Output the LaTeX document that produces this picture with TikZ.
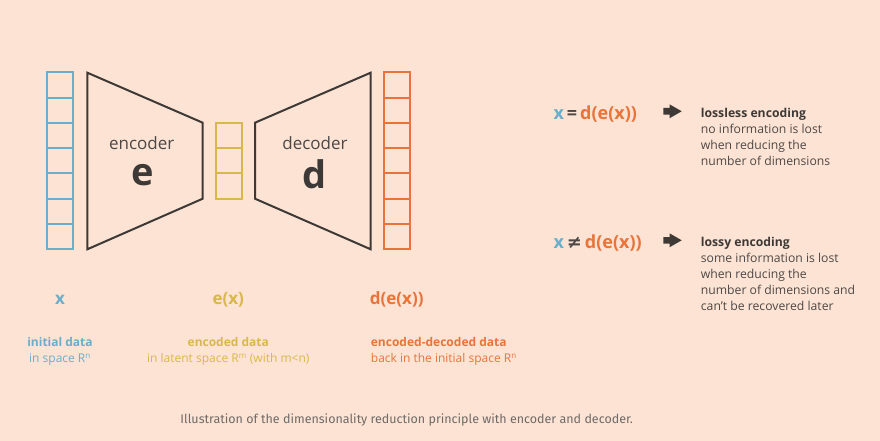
\documentclass[tikz,border=0pt]{standalone}
\usepackage{fontspec}
\setmainfont{Open Sans}
\newfontfamily\capfont{Fira Sans}
\newfontfamily\symfont{DejaVu Sans}
\definecolor{bg}{HTML}{FDE3D3}
\definecolor{cblue}{HTML}{6AAECB}
\definecolor{cyellow}{HTML}{D8B84A}
\definecolor{corange}{HTML}{E8743A}
\definecolor{cdark}{HTML}{3D3937}
\definecolor{ctext}{HTML}{4D4847}
\definecolor{ccap}{HTML}{6E6A68}
\tikzset{
  cell/.style={draw=#1, line width=2pt, minimum width=26pt, minimum height=25.3pt, inner sep=0pt},
  trap/.style={draw=cdark, line width=2pt, line join=miter},
  big/.style={font=\fontsize{17}{20}\selectfont, text=ctext, inner sep=0pt},
  letter/.style={font=\fontsize{38}{40}\selectfont\bfseries, text=cdark, inner sep=0pt},
  formula/.style={font=\fontsize{18}{20}\selectfont\bfseries, inner sep=0pt, anchor=base west},
  head/.style={font=\fontsize{12.2}{16}\selectfont\bfseries, text=cdark, inner sep=0pt, anchor=base west},
  body/.style={font=\fontsize{12.2}{16}\selectfont, text=ctext, inner sep=0pt, anchor=base west},
  lbl/.style={font=\fontsize{17}{20}\selectfont\bfseries, inner sep=0pt, anchor=base},
  sub/.style={font=\fontsize{12}{16}\selectfont\bfseries, inner sep=0pt},
  subl/.style={font=\fontsize{12}{16}\selectfont, inner sep=0pt},
  blockarrow/.style={fill=cdark},
}
\newcommand{\blockarr}[2]{%
  \coordinate (#1) at #2;
  \fill[blockarrow] ([shift={(-9.2,-3.3)}]#1) -- ([shift={(-3,-3.3)}]#1) -- ([shift={(-3,-7)}]#1)
    -- ([shift={(9.2,0)}]#1) -- ([shift={(-3,7)}]#1) -- ([shift={(-3,3.3)}]#1) -- ([shift={(-9.2,3.3)}]#1) -- cycle;
}
\begin{document}
\begin{tikzpicture}[x=1pt,y=-1pt]
\fill[bg] (0,0) rectangle (880,441);
\useasboundingbox (0,0) rectangle (880,441);
% columns
\foreach \i in {1,...,7} {
  \node[cell=cblue] (b\i) at (59.7,{72.3+25.29*(\i-0.5)}) {};
  \node[cell=corange] (o\i) at (397.2,{72.3+25.29*(\i-0.5)}) {};
}
\foreach \i in {1,2,3} {
  \node[cell=cyellow] (y\i) at (228.7,{122.7+25.33*(\i-0.5)}) {};
}
% trapezoids
\draw[trap] (87.3,72.7) -- (202.7,122.7) -- (202.7,198.7) -- (87.3,249.3) -- cycle;
\draw[trap] (255,122.7) -- (370.7,72.7) -- (370.7,249.3) -- (255,198.7) -- cycle;
\node[big] (enc) at (141.7,143.3) {encoder};
\node[letter] (e) at (142.3,175) {e};
\node[big] (dec) at (315,143.3) {decoder};
\node[letter] (d) at (315,174) {d};
% bottom labels
\node[lbl, text=cblue] (lx) at (60,304.5) {x};
\node[lbl, text=cyellow] (lex) at (228.3,304.5) {e(x)};
\node[lbl, text=corange] (ldex) at (396.7,304.5) {d(e(x))};
\node[sub, text=cblue, anchor=base] (s1) at (60,346) {initial data};
\node[subl, text=cblue, anchor=base] (s1b) at (60,362.7) {in space R\textsuperscript{n}};
\node[sub, text=cyellow, anchor=base] (s2) at (228.3,346) {encoded data};
\node[subl, text=cyellow, anchor=base] (s2b) at (228.3,362.7) {in latent space R\textsuperscript{m} (with m<n)};
\node[sub, text=corange, anchor=base west] (s3) at (370.7,346) {encoded-decoded data};
\node[subl, text=corange, anchor=base west] (s3b) at (370.7,362.7) {back in the initial space R\textsuperscript{n}};
% right side
\node[formula] (f1) at (553.3,120) {\textcolor{cblue}{x}\,\textcolor{ctext}{=}\,\textcolor{corange}{d(e(x))}};
\node[formula] (f2) at (553.3,248.5) {\textcolor{cblue}{x}\,\textcolor{ctext}{\symfont ≠}\,\textcolor{corange}{d(e(x))}};
\blockarr{a1}{(672.5,111.3)}
\blockarr{a2}{(672.5,240.3)}
\node[head] (h1) at (700.7,117.3) {lossless encoding};
\node[body] (h1a) at (700.7,133.3) {no information is lost};
\node[body] (h1b) at (700.7,149.3) {when reducing the};
\node[body] (h1c) at (700.7,165.3) {number of dimensions};
\node[head] (h2) at (700.7,246.7) {lossy encoding};
\node[body] (h2a) at (700.7,262.7) {some information is lost};
\node[body] (h2b) at (700.7,278.7) {when reducing the};
\node[body] (h2c) at (700.7,294.7) {number of dimensions and};
\node[body] (h2d) at (700.7,310.7) {can't be recovered later};
% caption
\node[font=\capfont\fontsize{12.5}{15}\selectfont, text=ccap, inner sep=0pt] (cap) at (406.7,420) {Illustration of the dimensionality reduction principle with encoder and decoder.};
\end{tikzpicture}
\end{document}
